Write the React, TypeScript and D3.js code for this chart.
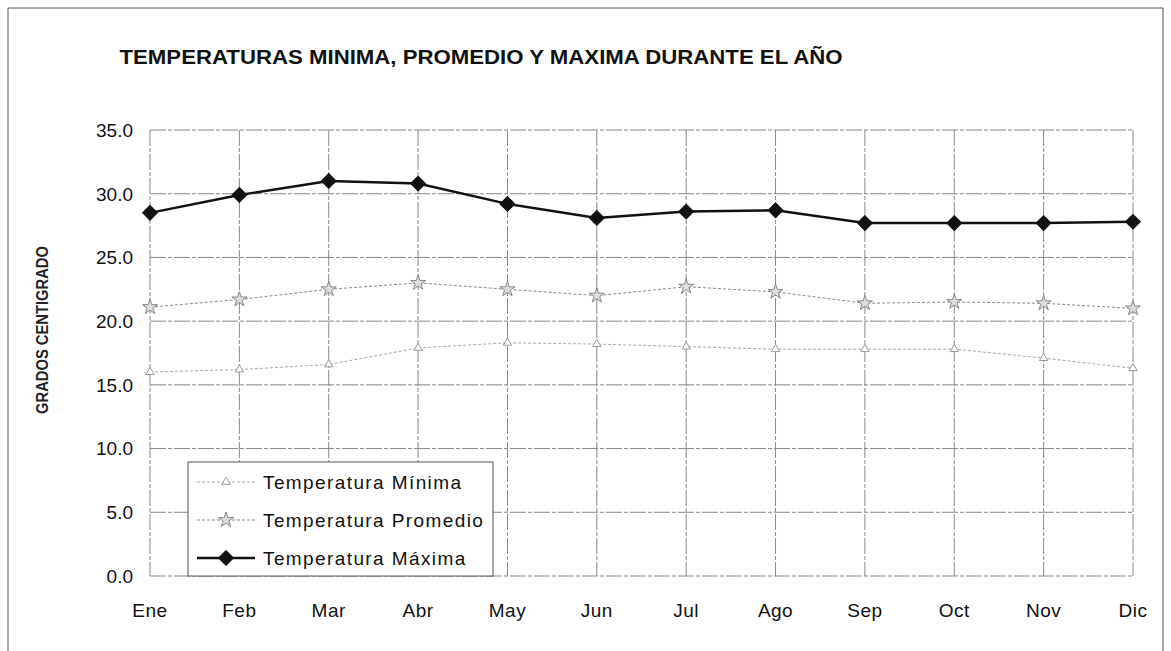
import React from "react";
import * as d3 from "d3";

const months = ["Ene", "Feb", "Mar", "Abr", "May", "Jun", "Jul", "Ago", "Sep", "Oct", "Nov", "Dic"];
const tMin = [16.0, 16.2, 16.6, 17.9, 18.3, 18.2, 18.0, 17.8, 17.8, 17.8, 17.1, 16.3];
const tProm = [21.1, 21.7, 22.5, 23.0, 22.5, 22.0, 22.7, 22.3, 21.4, 21.5, 21.4, 21.0];
const tMax = [28.5, 29.9, 31.0, 30.8, 29.2, 28.1, 28.6, 28.7, 27.7, 27.7, 27.7, 27.8];
const yTicks = [0, 5, 10, 15, 20, 25, 30, 35];
const seriesNames = ["Temperatura Mínima", "Temperatura Promedio", "Temperatura Máxima"];
const title = "TEMPERATURAS MINIMA, PROMEDIO Y MAXIMA DURANTE EL AÑO";
const yTitle = "GRADOS CENTIGRADO";

const W = 1171, H = 651;
const plot = { left: 150, right: 1133, top: 130, bottom: 576 };
const FONT = "'Liberation Sans', Arial, sans-serif";

export default function App() {
  const x = d3.scalePoint<string>().domain(months).range([plot.left, plot.right]);
  const y = d3.scaleLinear().domain([0, 35]).range([plot.bottom, plot.top]);
  const line = d3.line<number>().x((_, i) => x(months[i])!).y((d) => y(d));

  const tri = d3.symbol().type(d3.symbolTriangle).size(30)()!;
  const star = d3.symbol().type(d3.symbolStar).size(70)()!;
  const diamond = d3.symbol().type(d3.symbolSquare).size(110)()!;

  const styles = [
    { data: tMin, stroke: "#aaa", width: 1, dash: "3,2", marker: tri, rot: 0, mFill: "#fff", mStroke: "#999" },
    { data: tProm, stroke: "#8a8a8a", width: 1, dash: "3,2", marker: star, rot: 0, mFill: "#ddd", mStroke: "#888" },
    { data: tMax, stroke: "#111", width: 2.4, dash: undefined, marker: diamond, rot: 45, mFill: "#111", mStroke: "#111" },
  ];

  const legend = { x: 188, y: 462, w: 305, h: 114 };
  const legendRows = [482, 520, 558];

  return (
    <svg width={W} height={H} style={{ position: "absolute", left: 0, top: 0, background: "#fff" }} fontFamily={FONT}>
      <rect x={0} y={0} width={W} height={H} fill="#fff" />
      <path d={`M8,${H} V8 H1163 V${H}`} fill="none" stroke="#555" strokeWidth={1} />
      <text x={481} y={64} textAnchor="middle" fontSize={20} fontWeight="bold" textLength={723} lengthAdjust="spacingAndGlyphs" fill="#111">
        {title}
      </text>
      <text transform={`translate(48,330) rotate(-90)`} textAnchor="middle" fontSize={16} fontWeight="bold" fill="#222" textLength={168} lengthAdjust="spacingAndGlyphs">
        {yTitle}
      </text>
      {yTicks.map((t) => (
        <line key={"h" + t} x1={plot.left} x2={plot.right} y1={y(t)} y2={y(t)} stroke="#888" strokeWidth={1} strokeDasharray="16,2,4,2" />
      ))}
      {months.map((m) => (
        <line key={"v" + m} x1={x(m)} x2={x(m)} y1={plot.top} y2={plot.bottom} stroke="#888" strokeWidth={1} strokeDasharray="16,2,4,2" />
      ))}
      {yTicks.map((t) => (
        <text key={"yl" + t} x={133} y={y(t)} dy="0.36em" textAnchor="end" fontSize={19} fill="#111">
          {t.toFixed(1)}
        </text>
      ))}
      {months.map((m) => (
        <text key={"xl" + m} x={x(m)} y={617} textAnchor="middle" fontSize={19} fill="#111" letterSpacing={0.5}>
          {m}
        </text>
      ))}
      {styles.map((s, k) => (
        <g key={"s" + k}>
          <path d={line(s.data)!} fill="none" stroke={s.stroke} strokeWidth={s.width} strokeDasharray={s.dash} />
          {s.data.map((v, i) => (
            <path key={i} d={s.marker} transform={`translate(${x(months[i])},${y(v)}) rotate(${s.rot})`} fill={s.mFill} stroke={s.mStroke} strokeWidth={1} />
          ))}
        </g>
      ))}
      <rect x={legend.x} y={legend.y} width={legend.w} height={legend.h} fill="#fff" stroke="#555" strokeWidth={1} />
      {styles.map((s, k) => (
        <g key={"lg" + k}>
          <line x1={197} x2={255} y1={legendRows[k]} y2={legendRows[k]} stroke={s.stroke} strokeWidth={s.width} strokeDasharray={s.dash} />
          <path d={s.marker} transform={`translate(226,${legendRows[k]}) rotate(${s.rot})`} fill={s.mFill} stroke={s.mStroke} strokeWidth={1} />
          <text x={263} y={legendRows[k]} dy="0.36em" fontSize={19} fill="#111" letterSpacing={1.4}>
            {seriesNames[k]}
          </text>
        </g>
      ))}
    </svg>
  );
}
